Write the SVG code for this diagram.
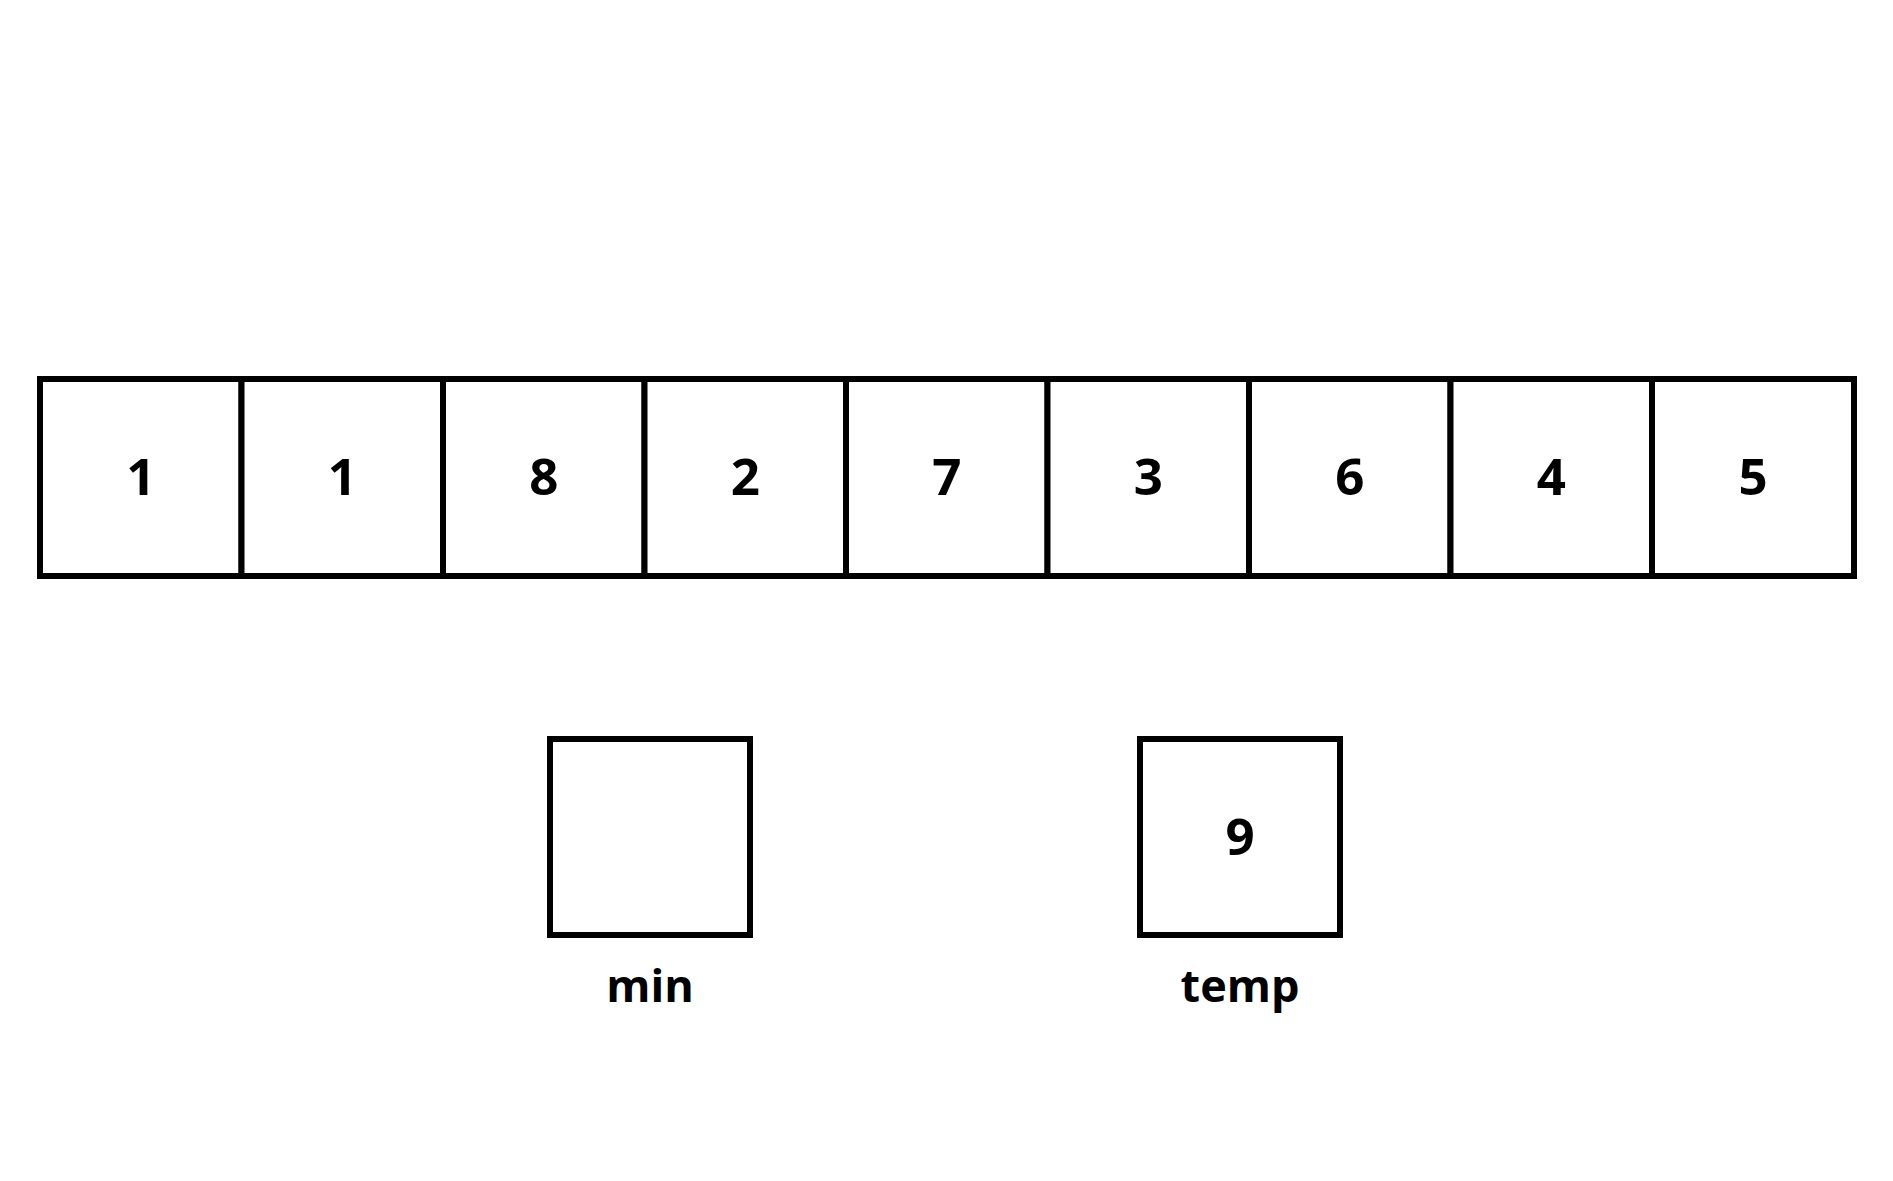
<svg xmlns="http://www.w3.org/2000/svg" width="1893" height="1181" viewBox="0 0 1893 1181">
<style>
.cell{fill:#fff;stroke:#000;stroke-width:6;stroke-linecap:square}
.num{font-family:"Open Sans","Noto Sans",sans-serif;font-weight:bold;font-size:51px;text-anchor:middle;fill:#000}
.lbl{font-family:"Open Sans","Noto Sans",sans-serif;font-weight:bold;font-size:45px;text-anchor:middle;fill:#000}
</style>
<rect width="1893" height="1181" fill="#fff"/>
<g id="array">
<g id="cell0"><rect class="cell" x="40" y="379" width="201.5" height="197"/><text class="num" x="140.8" y="495">1</text></g>
<g id="cell1"><rect class="cell" x="241.5" y="379" width="201.5" height="197"/><text class="num" x="342.3" y="495">1</text></g>
<g id="cell2"><rect class="cell" x="443" y="379" width="201.5" height="197"/><text class="num" x="543.8" y="495">8</text></g>
<g id="cell3"><rect class="cell" x="644.5" y="379" width="201.5" height="197"/><text class="num" x="745.3" y="495">2</text></g>
<g id="cell4"><rect class="cell" x="846" y="379" width="201.5" height="197"/><text class="num" x="946.8" y="495">7</text></g>
<g id="cell5"><rect class="cell" x="1047.5" y="379" width="201.5" height="197"/><text class="num" x="1148.3" y="495">3</text></g>
<g id="cell6"><rect class="cell" x="1249" y="379" width="201.5" height="197"/><text class="num" x="1349.8" y="495">6</text></g>
<g id="cell7"><rect class="cell" x="1450.5" y="379" width="201.5" height="197"/><text class="num" x="1551.3" y="495">4</text></g>
<g id="cell8"><rect class="cell" x="1652" y="379" width="202" height="197"/><text class="num" x="1753" y="495">5</text></g>
</g>
<g id="min">
<rect class="cell" x="550" y="739" width="200" height="196"/>
<text class="lbl" x="650" y="1002">min</text>
</g>
<g id="temp">
<rect class="cell" x="1140" y="739" width="200" height="196"/>
<text class="num" x="1240" y="855">9</text>
<text class="lbl" x="1240" y="1002">temp</text>
</g>
<g id="connectors"></g>
</svg>
